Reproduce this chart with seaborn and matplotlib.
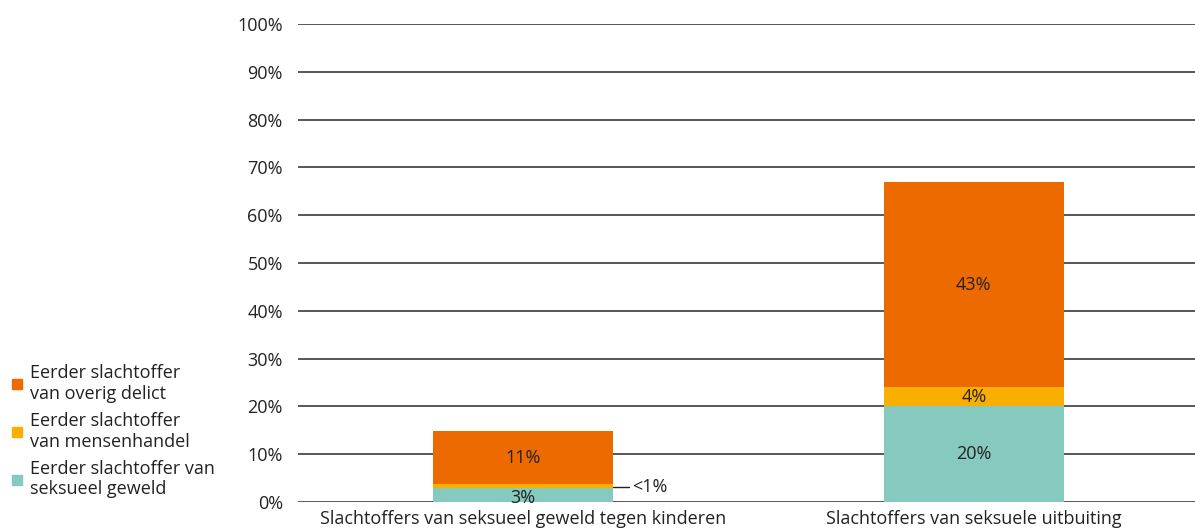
import matplotlib
matplotlib.use("Agg")
import matplotlib.pyplot as plt
from matplotlib.lines import Line2D
import seaborn as sns
import pandas as pd

categories = ["Slachtoffers van seksueel geweld tegen kinderen",
              "Slachtoffers van seksuele uitbuiting"]
seksueel = [3.0, 20.0]
mensenhandel = [0.8, 4.0]
overig = [11.0, 43.0]
labels_seksueel = ["3%", "20%"]
labels_mensenhandel = ["<1%", "4%"]
labels_overig = ["11%", "43%"]
series_names = ["Eerder slachtoffer\nvan overig delict",
                "Eerder slachtoffer\nvan mensenhandel",
                "Eerder slachtoffer van\nseksueel geweld"]
colors = {"overig": "#EC6A00", "mensenhandel": "#F8AF00", "seksueel": "#85C9BF"}

sns.set_theme(style="white")
plt.rcParams["font.family"] = ["Open Sans", "DejaVu Sans"]

FS = 13

df = pd.DataFrame({"cat": categories, "seksueel": seksueel,
                   "mensenhandel": mensenhandel, "overig": overig})

fig = plt.figure(figsize=(11.95, 5.31), dpi=100)
ax = fig.add_axes([0.2494, 0.0546, 0.7540, 0.9002])

bottom1 = df["seksueel"].values
bottom2 = bottom1 + df["mensenhandel"].values
common = dict(data=df, x="cat", width=0.4, saturation=1, ax=ax, zorder=3,
              linewidth=0, edgecolor="none")
sns.barplot(y="seksueel", color=colors["seksueel"], **common)
sns.barplot(y="mensenhandel", color=colors["mensenhandel"], bottom=bottom1, **common)
sns.barplot(y="overig", color=colors["overig"], bottom=bottom2, **common)

ax.set_xlim(-0.5, 1.5)
ax.set_ylim(0, 100)
ax.set_yticks(range(0, 101, 10))
ax.set_yticklabels([f"{v}%" for v in range(0, 101, 10)], fontsize=FS, color="#222222")
ax.tick_params(axis="y", length=0, pad=11)
ax.tick_params(axis="x", length=0, pad=6, labelsize=FS, labelcolor="#222222")
ax.set_xlabel("")
ax.set_ylabel("")
for s in ax.spines.values():
    s.set_visible(False)
ax.yaxis.grid(True, color="#4a4a4a", linewidth=1.3, zorder=0)
ax.set_axisbelow(True)

txt_kw = dict(ha="center", va="center", fontsize=FS, color="#222222", zorder=5)
for i in range(len(categories)):
    ax.text(i, seksueel[i] / 2 - (0.6 if i == 0 else 0), labels_seksueel[i], **txt_kw)
    ax.text(i, bottom2[i] + overig[i] / 2, labels_overig[i], **txt_kw)
    if mensenhandel[i] >= 2:
        ax.text(i, bottom1[i] + mensenhandel[i] / 2, labels_mensenhandel[i], **txt_kw)
    else:
        ym = bottom1[i] + mensenhandel[i] / 2 - 0.3
        ax.plot([i + 0.2, i + 0.234], [ym, ym], color="#222222", lw=1, zorder=5,
                clip_on=False)
        ax.text(i + 0.242, ym, labels_mensenhandel[i], ha="left", va="center",
                fontsize=FS, color="#222222", zorder=5)

handles = [Line2D([], [], marker="s", linestyle="", markersize=7, color=colors[k])
           for k in ["overig", "mensenhandel", "seksueel"]]
leg = fig.legend(handles, series_names, loc="upper left", bbox_to_anchor=(0.0, 0.335),
                 frameon=False, fontsize=FS, handlelength=0.7, handletextpad=0.35,
                 labelspacing=0.5, borderaxespad=0.2)
for t in leg.get_texts():
    t.set_color("#222222")

fig.savefig("out.png", dpi=100)
